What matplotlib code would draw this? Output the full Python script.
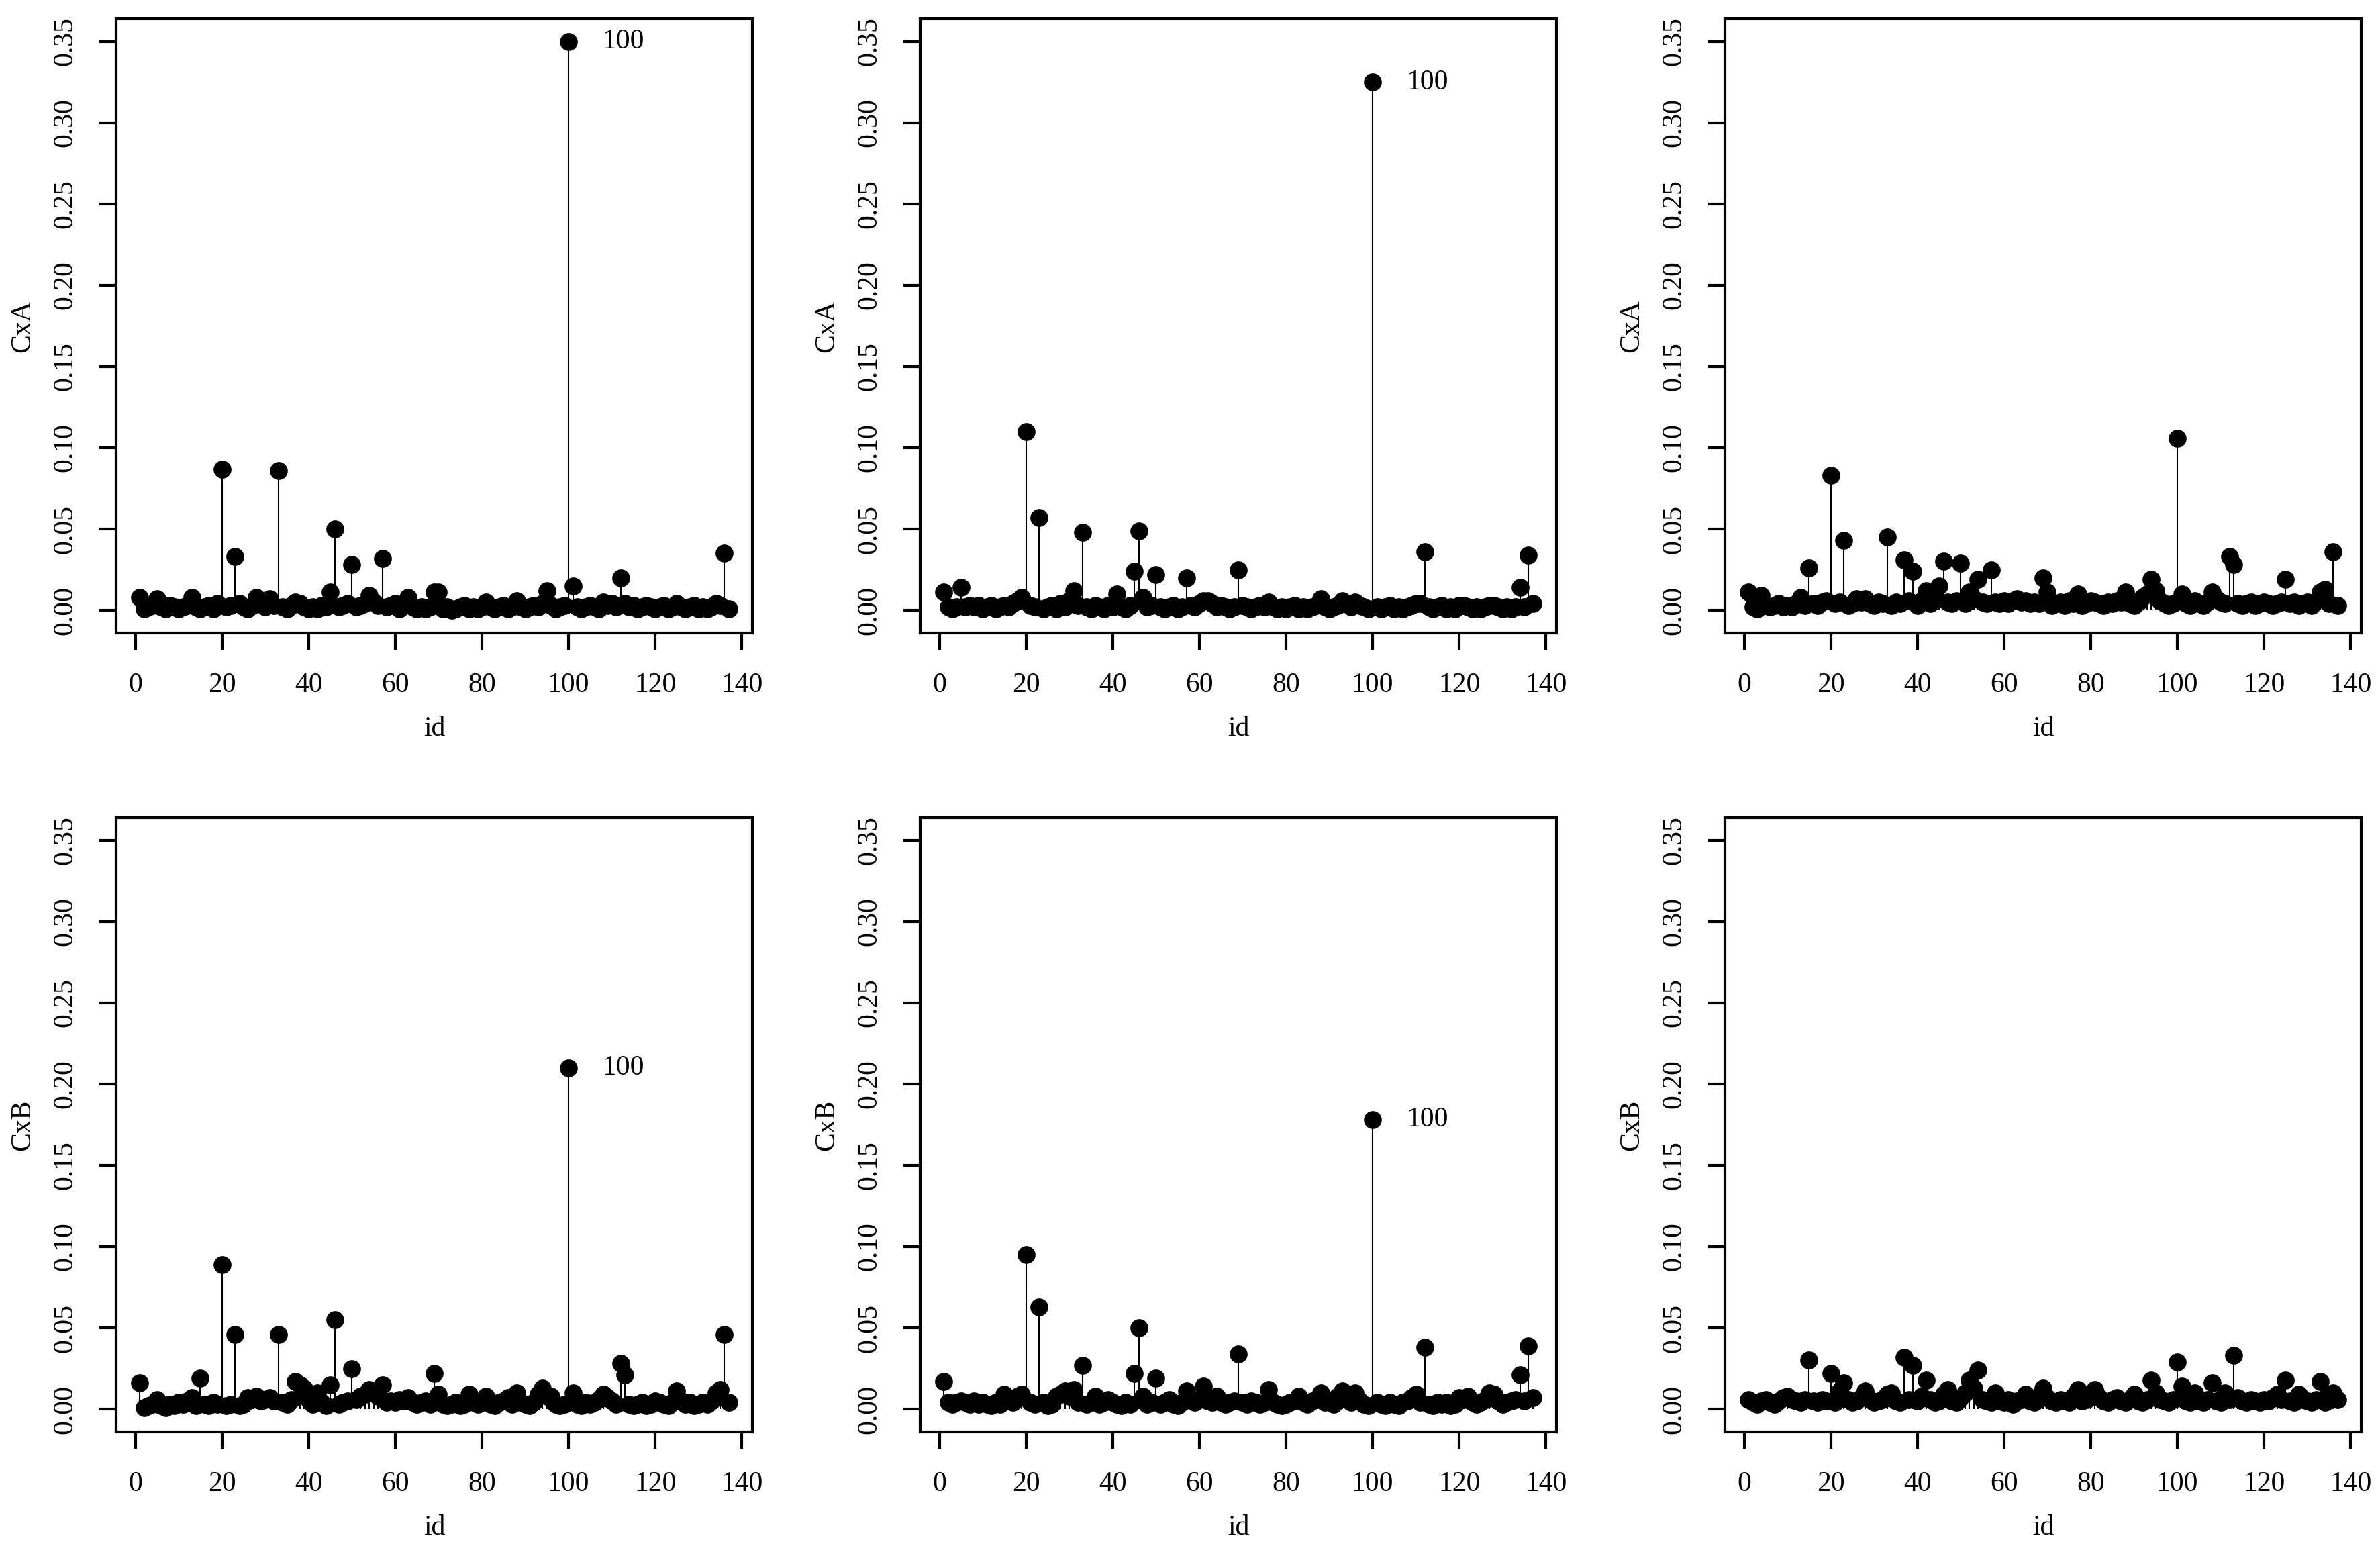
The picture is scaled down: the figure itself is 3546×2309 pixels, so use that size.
import numpy as np
import matplotlib.pyplot as plt

plt.rcParams['font.family'] = ['Liberation Serif', 'DejaVu Serif']
plt.rcParams['font.size'] = 10

# observation ids
ids = np.arange(1, 138)

# top row: CxA for the three fits
cxa_1 = [0.008, 0.001, 0.002, 0.003, 0.007, 0.002, 0.001, 0.003, 0.002, 0.001,
         0.002, 0.003, 0.008, 0.002, 0.001, 0.002, 0.003, 0.001, 0.004, 0.087,
         0.002, 0.003, 0.033, 0.004, 0.002, 0.001, 0.003, 0.008, 0.004, 0.002,
         0.007, 0.003, 0.086, 0.002, 0.001, 0.003, 0.005, 0.004, 0.002, 0.001,
         0.002, 0.001, 0.003, 0.002, 0.011, 0.050, 0.002, 0.003, 0.004, 0.028,
         0.002, 0.003, 0.004, 0.009, 0.005, 0.003, 0.032, 0.002, 0.003, 0.004,
         0.001, 0.003, 0.008, 0.002, 0.001, 0.002, 0.001, 0.002, 0.011, 0.011,
         0.001, 0.002, 0.000, 0.001, 0.002, 0.003, 0.001, 0.002, 0.001, 0.002,
         0.005, 0.002, 0.001, 0.002, 0.003, 0.001, 0.002, 0.006, 0.002, 0.001,
         0.002, 0.003, 0.002, 0.004, 0.012, 0.003, 0.001, 0.002, 0.003, 0.350,
         0.015, 0.002, 0.001, 0.002, 0.003, 0.002, 0.001, 0.005, 0.003, 0.004,
         0.002, 0.020, 0.004, 0.002, 0.003, 0.001, 0.002, 0.003, 0.002, 0.001,
         0.002, 0.003, 0.001, 0.002, 0.004, 0.002, 0.001, 0.002, 0.003, 0.001,
         0.002, 0.001, 0.002, 0.004, 0.003, 0.035, 0.001]

cxa_2 = [0.011, 0.002, 0.001, 0.002, 0.014, 0.002, 0.003, 0.002, 0.003, 0.001,
         0.002, 0.003, 0.001, 0.002, 0.003, 0.002, 0.004, 0.006, 0.008, 0.110,
         0.003, 0.002, 0.057, 0.001, 0.002, 0.003, 0.001, 0.004, 0.002, 0.006,
         0.012, 0.003, 0.048, 0.002, 0.001, 0.003, 0.002, 0.001, 0.003, 0.002,
         0.010, 0.002, 0.001, 0.003, 0.024, 0.049, 0.008, 0.002, 0.003, 0.022,
         0.002, 0.001, 0.002, 0.003, 0.001, 0.002, 0.020, 0.003, 0.002, 0.004,
         0.006, 0.006, 0.004, 0.002, 0.003, 0.002, 0.001, 0.002, 0.025, 0.003,
         0.002, 0.001, 0.002, 0.003, 0.002, 0.005, 0.002, 0.001, 0.002, 0.001,
         0.002, 0.003, 0.001, 0.002, 0.001, 0.002, 0.003, 0.007, 0.002, 0.001,
         0.002, 0.003, 0.006, 0.004, 0.002, 0.005, 0.003, 0.002, 0.001, 0.325,
         0.002, 0.001, 0.002, 0.003, 0.001, 0.002, 0.001, 0.002, 0.003, 0.004,
         0.004, 0.036, 0.002, 0.001, 0.002, 0.003, 0.001, 0.002, 0.001, 0.003,
         0.003, 0.002, 0.001, 0.002, 0.001, 0.002, 0.003, 0.003, 0.002, 0.001,
         0.002, 0.001, 0.002, 0.014, 0.002, 0.034, 0.004]

cxa_3 = [0.011, 0.002, 0.001, 0.009, 0.003, 0.002, 0.003, 0.004, 0.002, 0.003,
         0.002, 0.004, 0.008, 0.003, 0.026, 0.004, 0.003, 0.005, 0.006, 0.083,
         0.004, 0.005, 0.043, 0.003, 0.004, 0.007, 0.005, 0.007, 0.004, 0.003,
         0.005, 0.004, 0.045, 0.003, 0.005, 0.004, 0.031, 0.006, 0.024, 0.003,
         0.006, 0.012, 0.004, 0.008, 0.015, 0.030, 0.005, 0.004, 0.006, 0.029,
         0.004, 0.011, 0.007, 0.019, 0.005, 0.004, 0.025, 0.005, 0.004, 0.006,
         0.004, 0.006, 0.007, 0.005, 0.006, 0.004, 0.005, 0.004, 0.020, 0.011,
         0.003, 0.004, 0.005, 0.003, 0.006, 0.004, 0.010, 0.003, 0.004, 0.006,
         0.005, 0.004, 0.003, 0.005, 0.004, 0.006, 0.005, 0.011, 0.004, 0.003,
         0.005, 0.008, 0.010, 0.019, 0.012, 0.006, 0.004, 0.003, 0.004, 0.106,
         0.010, 0.004, 0.003, 0.006, 0.004, 0.003, 0.005, 0.011, 0.007, 0.005,
         0.004, 0.033, 0.028, 0.004, 0.003, 0.004, 0.005, 0.003, 0.004, 0.005,
         0.004, 0.003, 0.004, 0.005, 0.019, 0.004, 0.005, 0.003, 0.004, 0.005,
         0.003, 0.006, 0.011, 0.013, 0.004, 0.036, 0.003]

# bottom row: CxB for the three fits
cxb_1 = [0.016, 0.001, 0.002, 0.003, 0.006, 0.002, 0.001, 0.003, 0.002, 0.004,
         0.003, 0.005, 0.007, 0.002, 0.019, 0.003, 0.002, 0.004, 0.003, 0.089,
         0.002, 0.003, 0.046, 0.002, 0.003, 0.007, 0.006, 0.008, 0.005, 0.006,
         0.007, 0.005, 0.046, 0.004, 0.003, 0.006, 0.017, 0.015, 0.013, 0.006,
         0.003, 0.010, 0.004, 0.002, 0.015, 0.055, 0.003, 0.004, 0.005, 0.025,
         0.006, 0.008, 0.009, 0.012, 0.011, 0.008, 0.015, 0.004, 0.005, 0.004,
         0.006, 0.005, 0.007, 0.004, 0.003, 0.004, 0.005, 0.003, 0.022, 0.009,
         0.003, 0.002, 0.003, 0.004, 0.002, 0.003, 0.009, 0.004, 0.003, 0.004,
         0.008, 0.003, 0.002, 0.004, 0.005, 0.007, 0.003, 0.010, 0.004, 0.003,
         0.002, 0.004, 0.009, 0.013, 0.008, 0.008, 0.003, 0.002, 0.003, 0.210,
         0.010, 0.003, 0.002, 0.004, 0.003, 0.004, 0.006, 0.009, 0.007, 0.005,
         0.003, 0.028, 0.021, 0.003, 0.002, 0.003, 0.004, 0.002, 0.003, 0.005,
         0.004, 0.003, 0.002, 0.004, 0.011, 0.005, 0.003, 0.004, 0.002, 0.003,
         0.004, 0.003, 0.005, 0.010, 0.012, 0.046, 0.004]

cxb_2 = [0.017, 0.004, 0.003, 0.004, 0.005, 0.004, 0.003, 0.005, 0.003, 0.004,
         0.003, 0.002, 0.004, 0.003, 0.009, 0.006, 0.004, 0.008, 0.009, 0.095,
         0.004, 0.003, 0.063, 0.004, 0.002, 0.003, 0.008, 0.009, 0.011, 0.008,
         0.012, 0.004, 0.027, 0.003, 0.004, 0.008, 0.003, 0.004, 0.006, 0.004,
         0.003, 0.002, 0.004, 0.003, 0.022, 0.050, 0.008, 0.003, 0.004, 0.019,
         0.003, 0.004, 0.006, 0.003, 0.002, 0.004, 0.011, 0.006, 0.004, 0.006,
         0.014, 0.005, 0.004, 0.008, 0.004, 0.003, 0.004, 0.005, 0.034, 0.004,
         0.003, 0.005, 0.004, 0.003, 0.004, 0.012, 0.004, 0.003, 0.002, 0.003,
         0.004, 0.005, 0.008, 0.004, 0.003, 0.005, 0.006, 0.010, 0.004, 0.005,
         0.003, 0.008, 0.011, 0.006, 0.004, 0.010, 0.005, 0.003, 0.002, 0.178,
         0.004, 0.003, 0.002, 0.004, 0.003, 0.002, 0.004, 0.005, 0.007, 0.009,
         0.004, 0.038, 0.003, 0.002, 0.004, 0.003, 0.004, 0.002, 0.003, 0.007,
         0.006, 0.008, 0.004, 0.003, 0.004, 0.006, 0.010, 0.009, 0.005, 0.003,
         0.004, 0.005, 0.006, 0.021, 0.005, 0.039, 0.007]

cxb_3 = [0.006, 0.004, 0.003, 0.005, 0.006, 0.004, 0.003, 0.005, 0.007, 0.008,
         0.006, 0.005, 0.004, 0.006, 0.030, 0.005, 0.004, 0.006, 0.005, 0.022,
         0.004, 0.011, 0.016, 0.006, 0.004, 0.005, 0.007, 0.011, 0.006, 0.004,
         0.005, 0.006, 0.009, 0.010, 0.005, 0.004, 0.032, 0.006, 0.027, 0.005,
         0.008, 0.018, 0.006, 0.004, 0.005, 0.009, 0.012, 0.005, 0.004, 0.007,
         0.010, 0.018, 0.013, 0.024, 0.006, 0.005, 0.004, 0.010, 0.005, 0.004,
         0.006, 0.003, 0.005, 0.006, 0.009, 0.005, 0.004, 0.008, 0.013, 0.007,
         0.005, 0.004, 0.006, 0.005, 0.004, 0.008, 0.012, 0.005, 0.006, 0.009,
         0.012, 0.007, 0.005, 0.004, 0.006, 0.007, 0.005, 0.004, 0.006, 0.009,
         0.005, 0.004, 0.006, 0.018, 0.010, 0.006, 0.005, 0.004, 0.006, 0.029,
         0.014, 0.005, 0.004, 0.010, 0.005, 0.004, 0.006, 0.016, 0.005, 0.004,
         0.010, 0.006, 0.033, 0.007, 0.005, 0.004, 0.006, 0.005, 0.004, 0.006,
         0.005, 0.007, 0.009, 0.006, 0.018, 0.005, 0.004, 0.009, 0.006, 0.005,
         0.004, 0.006, 0.017, 0.004, 0.009, 0.010, 0.006]

panels = [(cxa_1, 'CxA', True), (cxa_2, 'CxA', True), (cxa_3, 'CxA', False),
          (cxb_1, 'CxB', True), (cxb_2, 'CxB', True), (cxb_3, 'CxB', False)]

W, H = 3546, 2309
fig = plt.figure(figsize=(W / 300, H / 300), dpi=300)

lefts = [173, 1371, 2570]
bottoms = [943, 2133]
aw, ah = 948, 915

for i, (vals, ylab, label100) in enumerate(panels):
    row, col = divmod(i, 3)
    ax = fig.add_axes([lefts[col] / W, 1 - bottoms[row] / H, aw / W, ah / H])
    vals = np.array(vals)
    ax.vlines(ids, 0, vals, color='black', lw=0.5)
    ax.plot(ids, vals, 'o', color='black', ms=6.4, mew=0)
    if label100:
        ax.annotate('100', (100, vals[99]), xytext=(12, 0), textcoords='offset points',
                    ha='left', va='center', fontsize=10)
    ax.set_xlim(-4.44, 142.44)
    ax.set_ylim(-0.014, 0.364)
    ax.set_xticks(np.arange(0, 141, 20))
    ax.set_yticks(np.arange(0, 0.351, 0.05))
    ax.set_yticklabels(['%.2f' % t for t in np.arange(0, 0.351, 0.05)],
                       rotation=90, va='center')
    ax.tick_params(length=6, width=1.0, labelsize=10)
    ax.tick_params(axis='x', pad=8)
    ax.tick_params(axis='y', pad=7.5)
    for sp in ax.spines.values():
        sp.set_linewidth(1.0)
    ax.set_xlabel('id', fontsize=10, va='center')
    ax.set_ylabel(ylab, fontsize=10, va='center')
    ax.xaxis.set_label_coords(0.5, -143 / ah)
    ax.yaxis.set_label_coords(-139 / aw, 0.5)

fig.savefig('out.png', dpi=300)
